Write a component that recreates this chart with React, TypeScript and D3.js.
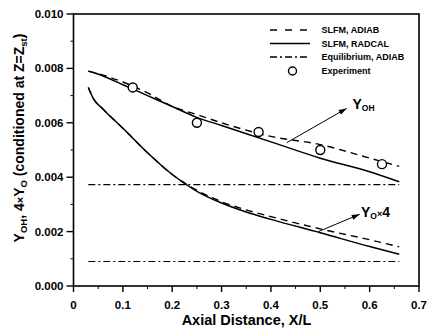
import React from "react";
import * as d3 from "d3";

// ---- data ----
const xModel = [0.03, 0.045, 0.1, 0.15, 0.2, 0.25, 0.3, 0.4, 0.5, 0.6, 0.66];
const ohAdiab = [0.0079, 0.00783, 0.0075, 0.0071, 0.0066, 0.0063, 0.006, 0.0055, 0.0052, 0.0047, 0.0044];
const ohRadcal = [0.0079, 0.00782, 0.0074, 0.007, 0.0066, 0.0062, 0.0059, 0.0053, 0.0047, 0.0042, 0.00383];
const xO = [0.03, 0.04, 0.06, 0.1, 0.15, 0.2, 0.25, 0.3, 0.35, 0.4, 0.5, 0.6, 0.66];
const oAdiab = [0.0073, 0.0069, 0.0065, 0.0058, 0.0049, 0.0041, 0.00352, 0.0031, 0.0028, 0.00255, 0.0021, 0.0017, 0.00144];
const oRadcal = [0.0073, 0.0069, 0.0065, 0.0058, 0.0049, 0.0041, 0.00348, 0.00305, 0.00272, 0.00245, 0.00196, 0.00145, 0.00117];
const eqX = [0.03, 0.66];
const eqOH = [0.00373, 0.00373];
const eqO = [0.0009, 0.0009];
const expX = [0.12, 0.25, 0.375, 0.5, 0.625];
const expY = [0.0073, 0.006, 0.00566, 0.005, 0.00448];
const xTicks = [0, 0.1, 0.2, 0.3, 0.4, 0.5, 0.6, 0.7];
const xMinor = [0.05, 0.15, 0.25, 0.35, 0.45, 0.55, 0.65];
const yTicks = [0, 0.002, 0.004, 0.006, 0.008, 0.01];
const yMinor = [0.001, 0.003, 0.005, 0.007, 0.009];
const legendLabels = ["SLFM, ADIAB", "SLFM, RADCAL", "Equilibrium, ADIAB", "Experiment"];
// annotation arrows [x0, y0, x1, y1] in data units
const arrowOH = [0.432, 0.00527, 0.5535, 0.00653];
const arrowO = [0.496, 0.002, 0.58, 0.00264];

const W = 438;
const H = 333;
const L = 73.5, R = 419, T = 14, B = 286;
const FONT = "'Liberation Sans', Arial, Helvetica, sans-serif";
const DASH = "7,5";
const DASHDOT = "7,3,2,3";

export default function App() {
  const x = d3.scaleLinear().domain([0, 0.7]).range([L, R]);
  const y = d3.scaleLinear().domain([0, 0.01]).range([B, T]);
  const line = d3
    .line<[number, number]>()
    .x((d) => x(d[0]))
    .y((d) => y(d[1]))
    .curve(d3.curveMonotoneX);
  const pts = (xs: number[], ys: number[]) => xs.map((v, i) => [v, ys[i]] as [number, number]);

  const legendY = [30, 43.5, 57, 71];
  const arrowHead = (a: number[]) => {
    const x1 = x(a[2]), y1 = y(a[3]);
    const ang = Math.atan2(y1 - y(a[1]), x1 - x(a[0]));
    const len = 8, wid = 2.6;
    const bx = x1 - len * Math.cos(ang), by = y1 - len * Math.sin(ang);
    const px = -Math.sin(ang) * wid, py = Math.cos(ang) * wid;
    return `M${x1},${y1}L${bx + px},${by + py}L${bx - px},${by - py}Z`;
  };

  return (
    <svg
      width={W}
      height={H}
      style={{ position: "absolute", left: 0, top: 0, background: "#fff" }}
      fontFamily={FONT}
    >
      <rect x={0} y={0} width={W} height={H} fill="#fff" />
      {/* frame */}
      <rect x={L} y={T} width={R - L} height={B - T} fill="none" stroke="#000" strokeWidth={1.6} />
      {/* x ticks */}
      {xTicks.map((t) => (
        <g key={"xt" + t}>
          <line x1={x(t)} x2={x(t)} y1={B} y2={B + 6} stroke="#000" strokeWidth={1.4} />
          <text x={x(t)} y={309} textAnchor="middle" fontSize={11.5} fontWeight="bold">
            {t === 0 ? "0" : d3.format(".1f")(t)}
          </text>
        </g>
      ))}
      {xMinor.map((t) => (
        <line key={"xm" + t} x1={x(t)} x2={x(t)} y1={B} y2={B + 3} stroke="#000" strokeWidth={1} />
      ))}
      {/* y ticks */}
      {yTicks.map((t) => (
        <g key={"yt" + t}>
          <line x1={L - 7} x2={L} y1={y(t)} y2={y(t)} stroke="#000" strokeWidth={1.4} />
          <text x={63.5} y={y(t) + 4} textAnchor="end" fontSize={11.5} fontWeight="bold">
            {d3.format(".3f")(t)}
          </text>
        </g>
      ))}
      {yMinor.map((t) => (
        <line key={"ym" + t} x1={L - 3} x2={L} y1={y(t)} y2={y(t)} stroke="#000" strokeWidth={1} />
      ))}
      {/* axis titles */}
      <text x={246.5} y={324.5} textAnchor="middle" fontSize={14.5} fontWeight="bold">
        Axial Distance, X/L
      </text>
      <text
        transform="translate(24,138) rotate(-90)"
        textAnchor="middle"
        fontSize={14}
        fontWeight="bold"
      >
        Y<tspan fontSize={9.5} dy={3}>OH</tspan>
        <tspan dy={-3}>, 4</tspan>
        <tspan fontSize={11}>×</tspan>Y<tspan fontSize={9.5} dy={3}>O</tspan>
        <tspan dy={-3}> (conditioned at Z=Z</tspan>
        <tspan fontSize={9.5} dy={3}>st</tspan>
        <tspan dy={-3}>)</tspan>
      </text>

      {/* curves */}
      <path d={line(pts(xModel, ohAdiab)) || ""} fill="none" stroke="#000" strokeWidth={1.4} strokeDasharray={DASH} />
      <path d={line(pts(xModel, ohRadcal)) || ""} fill="none" stroke="#000" strokeWidth={1.5} />
      <path d={line(pts(xO, oAdiab)) || ""} fill="none" stroke="#000" strokeWidth={1.4} strokeDasharray={DASH} />
      <path d={line(pts(xO, oRadcal)) || ""} fill="none" stroke="#000" strokeWidth={1.5} />
      <path d={line(pts(eqX, eqOH)) || ""} fill="none" stroke="#000" strokeWidth={1.2} strokeDasharray={DASHDOT} />
      <path d={line(pts(eqX, eqO)) || ""} fill="none" stroke="#000" strokeWidth={1.2} strokeDasharray={DASHDOT} />
      {expX.map((v, i) => (
        <circle key={"e" + i} cx={x(v)} cy={y(expY[i])} r={4.5} fill="#fff" stroke="#000" strokeWidth={1.4} />
      ))}

      {/* annotations */}
      <line x1={x(arrowOH[0])} y1={y(arrowOH[1])} x2={x(arrowOH[2])} y2={y(arrowOH[3])} stroke="#000" strokeWidth={1} />
      <path d={arrowHead(arrowOH)} fill="#000" />
      <text x={352.5} y={108.5} fontSize={14} fontWeight="bold">
        Y<tspan fontSize={8.5} dy={2.5}>OH</tspan>
      </text>
      <line x1={x(arrowO[0])} y1={y(arrowO[1])} x2={x(arrowO[2])} y2={y(arrowO[3])} stroke="#000" strokeWidth={1} />
      <path d={arrowHead(arrowO)} fill="#000" />
      <text x={361} y={216.5} fontSize={14} fontWeight="bold">
        Y<tspan fontSize={8.5} dy={2.5}>O</tspan>
        <tspan fontSize={9} dy={-2.5}>×</tspan>
        <tspan>4</tspan>
      </text>

      {/* legend */}
      <line x1={270} x2={310} y1={legendY[0]} y2={legendY[0]} stroke="#000" strokeWidth={1.4} strokeDasharray="7,8" />
      <line x1={270} x2={310} y1={legendY[1]} y2={legendY[1]} stroke="#000" strokeWidth={1.4} />
      <line x1={270} x2={310} y1={legendY[2]} y2={legendY[2]} stroke="#000" strokeWidth={1.4} strokeDasharray={DASHDOT} />
      <circle cx={292.5} cy={legendY[3]} r={4} fill="#fff" stroke="#000" strokeWidth={1.4} />
      {legendLabels.map((s, i) => (
        <text key={s} x={321.5} y={legendY[i] + 3.2} fontSize={9} fontWeight="bold">
          {s}
        </text>
      ))}
    </svg>
  );
}
